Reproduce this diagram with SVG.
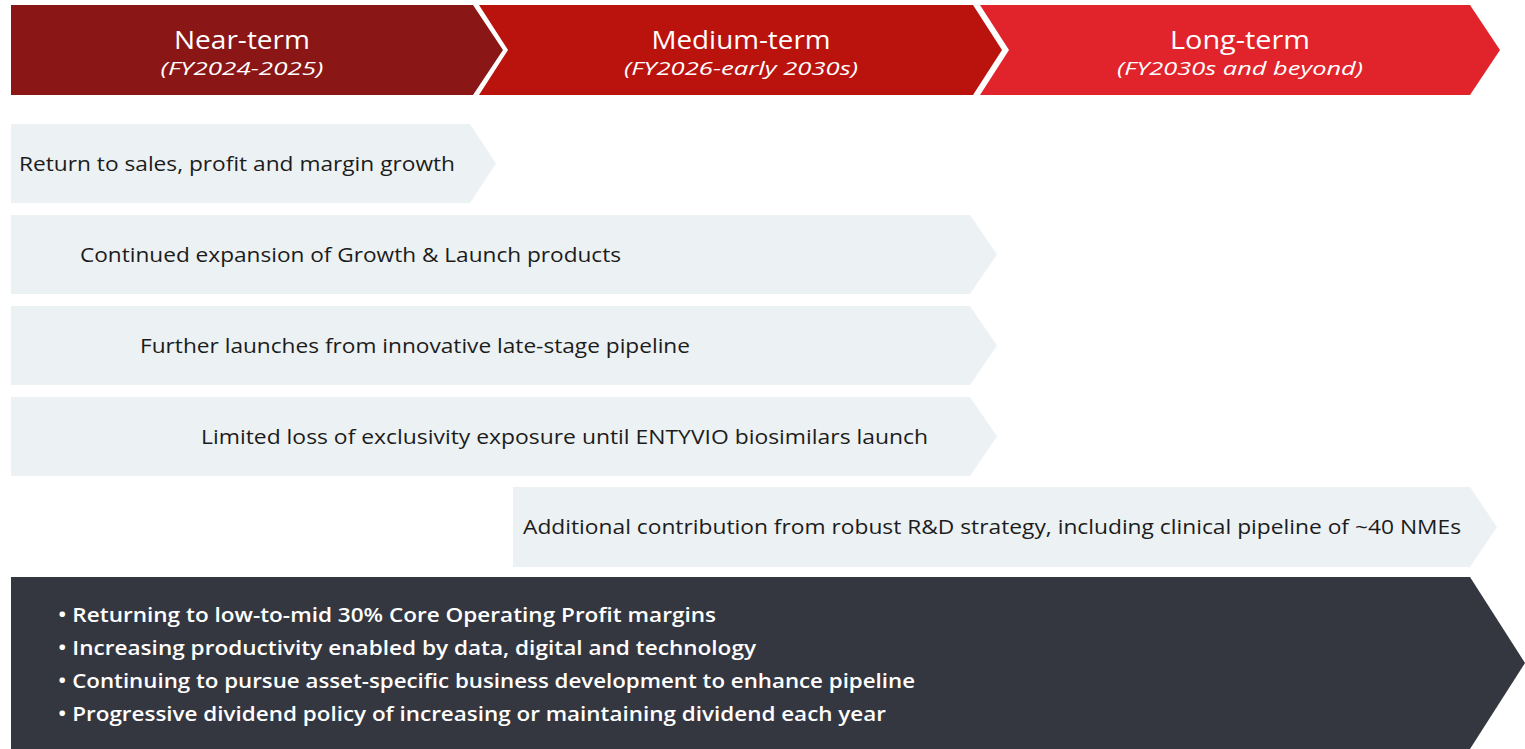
<svg xmlns="http://www.w3.org/2000/svg" width="1525" height="749" viewBox="0 0 1525 749">
<style>
.hd{font-family:"Open Sans","Liberation Sans",sans-serif;fill:#fff;text-anchor:middle}
.t1{font-size:25px;font-weight:500}
.t2{font-size:19px;font-style:italic;font-weight:500}
.row{fill:#ECF1F3}
.rt{font-family:"Open Sans","Liberation Sans",sans-serif;font-size:20px;fill:#1c1c1c}
.bt{font-family:"Open Sans","Liberation Sans",sans-serif;font-size:19.5px;font-weight:600;fill:#fff}
</style>
<rect width="1525" height="749" fill="#fff"/>
<g id="near-term">
<polygon points="11,5 473,5 503,50 473,95 11,95" fill="#8B1616"/>
<text class="hd t1" x="242" y="49" textLength="136" lengthAdjust="spacingAndGlyphs">Near-term</text>
<text class="hd t2" x="242" y="75" textLength="163" lengthAdjust="spacingAndGlyphs">(FY2024-2025)</text>
</g>
<g id="medium-term">
<polygon points="479,5 973,5 1002,50 973,95 479,95 508,50" fill="#BA130E"/>
<text class="hd t1" x="741" y="49" textLength="179" lengthAdjust="spacingAndGlyphs">Medium-term</text>
<text class="hd t2" x="741" y="75" textLength="234" lengthAdjust="spacingAndGlyphs">(FY2026-early 2030s)</text>
</g>
<g id="long-term">
<polygon points="980,5 1470,5 1500,50 1470,95 980,95 1009,50" fill="#E1242C"/>
<text class="hd t1" x="1240" y="49" textLength="140" lengthAdjust="spacingAndGlyphs">Long-term</text>
<text class="hd t2" x="1240" y="75" textLength="246" lengthAdjust="spacingAndGlyphs">(FY2030s and beyond)</text>
</g>
<g id="row1">
<polygon class="row" points="11,124 470,124 496,163.5 470,203 11,203"/>
<text class="rt" x="19" y="171" textLength="436" lengthAdjust="spacingAndGlyphs">Return to sales, profit and margin growth</text>
</g>
<g id="row2">
<polygon class="row" points="11,215 970,215 997,254.5 970,294 11,294"/>
<text class="rt" x="80" y="262" textLength="541" lengthAdjust="spacingAndGlyphs">Continued expansion of Growth &amp; Launch products</text>
</g>
<g id="row3">
<polygon class="row" points="11,306 970,306 997,345.5 970,385 11,385"/>
<text class="rt" x="140" y="353" textLength="550" lengthAdjust="spacingAndGlyphs">Further launches from innovative late-stage pipeline</text>
</g>
<g id="row4">
<polygon class="row" points="11,397 970,397 997,436.5 970,476 11,476"/>
<text class="rt" x="201" y="444" textLength="727" lengthAdjust="spacingAndGlyphs">Limited loss of exclusivity exposure until ENTYVIO biosimilars launch</text>
</g>
<g id="row5">
<polygon class="row" points="513,487 1470,487 1497,527 1470,567 513,567"/>
<text class="rt" x="523" y="534" textLength="938" lengthAdjust="spacingAndGlyphs">Additional contribution from robust R&amp;D strategy, including clinical pipeline of ~40 NMEs</text>
</g>
<g id="summary">
<polygon points="11,577 1470,577 1525,663 1470,749 11,749" fill="#353740"/>
<text class="bt" x="58" y="622" textLength="658" lengthAdjust="spacingAndGlyphs">• Returning to low-to-mid 30% Core Operating Profit margins</text>
<text class="bt" x="58" y="655" textLength="698" lengthAdjust="spacingAndGlyphs">• Increasing productivity enabled by data, digital and technology</text>
<text class="bt" x="58" y="688" textLength="857" lengthAdjust="spacingAndGlyphs">• Continuing to pursue asset-specific business development to enhance pipeline</text>
<text class="bt" x="58" y="721" textLength="828" lengthAdjust="spacingAndGlyphs">• Progressive dividend policy of increasing or maintaining dividend each year</text>
</g>
<g id="connectors"></g>
</svg>
